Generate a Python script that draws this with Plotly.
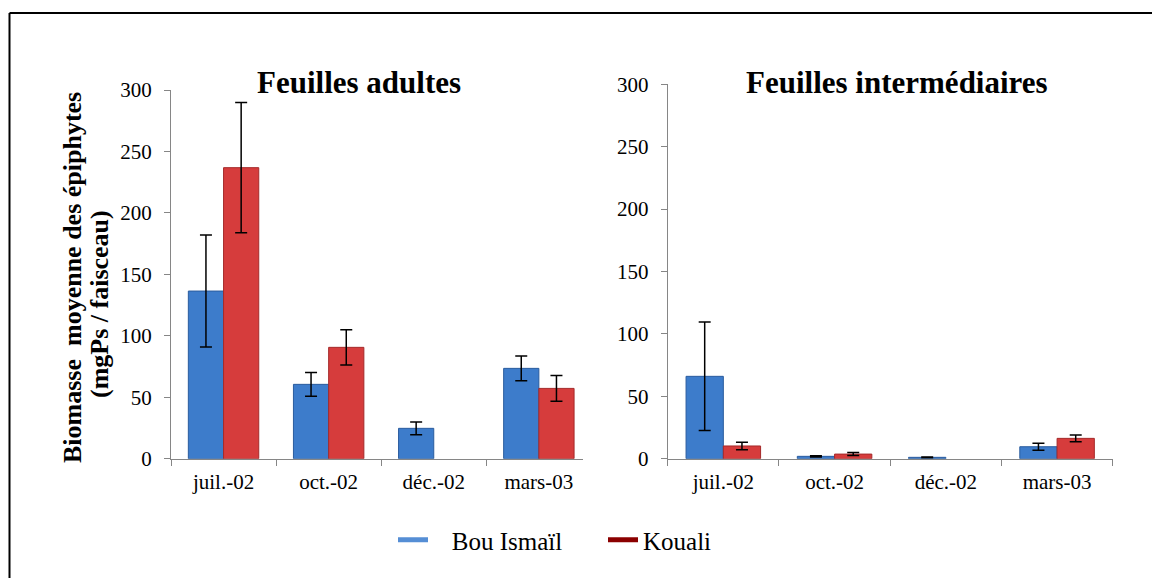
import plotly.graph_objects as go

# page body has an 8px margin; figure is sized to fit the window
OFF = 8
W, H = 1160 - OFF, 578 - OFF

categories = ["juil.-02", "oct.-02", "déc.-02", "mars-03"]

# Feuilles adultes
adult_bou = [136.4, 60.5, 24.7, 73.5]
adult_bou_err = [45.6, 9.6, 5.2, 10.0]
adult_kou = [236.8, 90.6, None, 57.2]
adult_kou_err = [53.0, 14.4, None, 10.4]

# Feuilles intermédiaires
inter_bou = [66.0, 1.9, 1.1, 9.6]
inter_bou_err = [43.5, 0.5, 0.3, 2.8]
inter_kou = [10.2, 3.7, None, 16.3]
inter_kou_err = [3.0, 1.2, None, 2.7]

series_names = ["Bou Ismaïl", "Kouali"]
panel_titles = ["Feuilles adultes", "Feuilles intermédiaires"]
y_title_lines = ["Biomasse  moyenne des épiphytes", "(mgPs / faisceau)"]
y_ticks = [0, 50, 100, 150, 200, 250, 300]

FONT = "Liberation Serif"
BLUE = "#3D7CCB"
BLUE_EDGE = "#2A5C9E"
RED = "#D63C3C"
RED_EDGE = "#A52A2A"
LEG_BLUE = "#558ED5"
LEG_RED = "#8B0000"


def px_x(p):
    return (p - OFF) / W


def px_y(p):
    return 1 - (p - OFF) / H


fig = go.Figure()


def add_panel(bou, bou_err, kou, kou_err, xa, ya):
    fig.add_trace(go.Bar(
        x=categories, y=bou, xaxis=xa, yaxis=ya, showlegend=False,
        marker=dict(color=BLUE, line=dict(color=BLUE_EDGE, width=1)),
        error_y=dict(type="data", array=bou_err, visible=True,
                     color="black", thickness=1.5, width=6),
        name=series_names[0],
    ))
    fig.add_trace(go.Bar(
        x=categories, y=kou, xaxis=xa, yaxis=ya, showlegend=False,
        marker=dict(color=RED, line=dict(color=RED_EDGE, width=1)),
        error_y=dict(type="data", array=kou_err, visible=True,
                     color="black", thickness=1.5, width=6),
        name=series_names[1],
    ))


add_panel(adult_bou, adult_bou_err, adult_kou, adult_kou_err, "x", "y")
add_panel(inter_bou, inter_bou_err, inter_kou, inter_kou_err, "x2", "y2")

# legend entries (line swatches)
fig.add_trace(go.Scatter(x=[None], y=[None], mode="lines",
                         line=dict(color=LEG_BLUE, width=5),
                         name="\u00a0\u00a0\u00a0" + series_names[0]))
fig.add_trace(go.Scatter(x=[None], y=[None], mode="lines",
                         line=dict(color=LEG_RED, width=5),
                         name=series_names[1]))

axis_common = dict(
    showline=True, linecolor="#868686", linewidth=1.2,
    ticks="outside", ticklen=6, tickcolor="#868686", tickwidth=1.2,
    showgrid=False, zeroline=False, automargin=False,
    tickfont=dict(family=FONT, size=21, color="black"),
)

title_font = dict(family=FONT, size=31, color="black")
ytitle_font = dict(family=FONT, size=26, color="black")

fig.update_layout(
    width=W, height=H,
    margin=dict(l=0, r=0, t=0, b=0),
    paper_bgcolor="white", plot_bgcolor="white",
    barmode="group", bargap=0.33, bargroupgap=0,
    font=dict(family=FONT, color="black"),
    xaxis=dict(axis_common, domain=[px_x(171), px_x(583)], anchor="y",
               type="category", range=[-0.5, 3.42], tickson="boundaries",
               ticklabelstandoff=4),
    yaxis=dict(axis_common, domain=[px_y(458.7), px_y(90)], anchor="x",
               range=[0, 300], tickvals=y_ticks, ticklabelstandoff=8),
    xaxis2=dict(axis_common, domain=[px_x(667.7), px_x(1112.7)], anchor="y2",
                type="category", range=[-0.5, 3.5], tickson="boundaries",
                ticklabelstandoff=4),
    yaxis2=dict(axis_common, domain=[px_y(458.7), px_y(84.3)], anchor="x2",
                range=[0, 300], tickvals=y_ticks, ticklabelstandoff=8),
    legend=dict(orientation="h", x=px_x(393), xanchor="left",
                y=px_y(540), yanchor="middle",
                font=dict(family=FONT, size=25, color="black"),
                bgcolor="rgba(0,0,0,0)", borderwidth=0,
                entrywidth=165, entrywidthmode="pixels"),
    annotations=[
        dict(text="<b>" + panel_titles[0] + "</b>", x=px_x(358.5), y=px_y(83),
             xref="paper", yref="paper", xanchor="center", yanchor="middle",
             showarrow=False, font=title_font),
        dict(text="<b>" + panel_titles[1] + "</b>", x=px_x(896.7), y=px_y(83),
             xref="paper", yref="paper", xanchor="center", yanchor="middle",
             showarrow=False, font=title_font),
        dict(text="<b>" + y_title_lines[0] + "</b>", x=px_x(73), y=px_y(278),
             xref="paper", yref="paper", xanchor="center", yanchor="middle",
             textangle=-90, showarrow=False, font=ytitle_font),
        dict(text="<b>" + y_title_lines[1] + "</b>", x=px_x(100), y=px_y(304),
             xref="paper", yref="paper", xanchor="center", yanchor="middle",
             textangle=-90, showarrow=False, font=ytitle_font),
    ],
    shapes=[
        dict(type="line", xref="paper", yref="paper",
             x0=px_x(9.5), x1=1.05, y0=px_y(13), y1=px_y(13),
             line=dict(color="black", width=2)),
        dict(type="line", xref="paper", yref="paper",
             x0=px_x(9.5), x1=px_x(9.5), y0=px_y(13), y1=-0.05,
             line=dict(color="black", width=2)),
    ],
)

fig.write_html("out.html")
